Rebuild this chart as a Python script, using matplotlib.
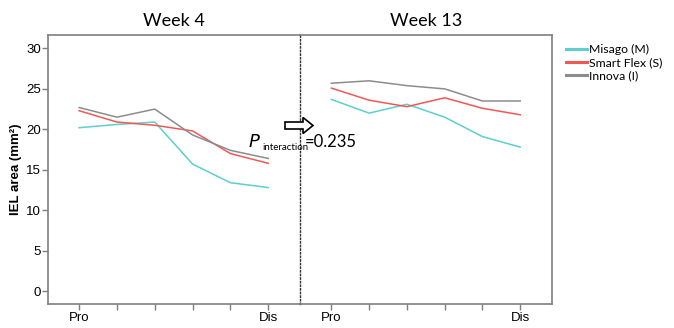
import matplotlib
matplotlib.use("Agg")
import matplotlib.pyplot as plt
from matplotlib.patches import FancyArrow

# IEL area (mm²) along the segment, proximal -> distal
positions = [0, 1, 2, 3, 4, 5]
tick_labels = ["Pro", "", "", "", "", "Dis"]

week4_misago = [20.2, 20.6, 20.9, 15.7, 13.4, 12.8]
week4_smartflex = [22.3, 20.9, 20.5, 19.8, 17.0, 15.8]
week4_innova = [22.7, 21.5, 22.5, 19.3, 17.4, 16.4]

week13_misago = [23.7, 22.0, 23.1, 21.5, 19.1, 17.8]
week13_smartflex = [25.1, 23.6, 22.8, 23.9, 22.6, 21.8]
week13_innova = [25.7, 26.0, 25.4, 25.0, 23.5, 23.5]

series_names = ["Misago (M)", "Smart Flex (S)", "Innova (I)"]
series_colors = ["#5ccfcf", "#f25757", "#8c8c8c"]
y_ticks = [0, 5, 10, 15, 20, 25, 30]
panel_titles = ["Week 4", "Week 13"]
p_value = "0.235"

title_font = "Lato"
tick_font = "Liberation Sans"
spine_col = "#7f7f7f"

fig = plt.figure(figsize=(6.74, 3.28), dpi=100)
ax1 = fig.add_axes([0.0708, 0.0732, 0.3743, 0.821])
ax2 = fig.add_axes([0.4451, 0.0732, 0.3739, 0.821])

week_data = [
    [week4_misago, week4_smartflex, week4_innova],
    [week13_misago, week13_smartflex, week13_innova],
]

for ax, data, title in zip([ax1, ax2], week_data, panel_titles):
    for vals, name, col in zip(data, series_names, series_colors):
        ax.plot(positions, vals, color=col, lw=1.1, label=name)
    ax.set_xlim(-0.83, 5.84)
    ax.set_ylim(-1.6, 31.7)
    ax.set_xticks(positions)
    ax.set_xticklabels(tick_labels, fontfamily=tick_font, fontsize=9.5)
    ax.set_title(title, fontfamily=title_font, fontsize=13, pad=6)
    ax.tick_params(axis="x", direction="out", length=4, width=1, color=spine_col, pad=2)
    for s in ax.spines.values():
        s.set_color(spine_col)
        s.set_linewidth(1.2)

ax1.set_yticks(y_ticks)
ax1.set_yticklabels([str(v) for v in y_ticks], fontfamily=tick_font, fontsize=9.5)
ax1.tick_params(axis="y", direction="out", length=4, width=1, color=spine_col, pad=1)
ax1.set_ylabel("IEL area (mm²)", fontfamily=tick_font, fontweight="bold", fontsize=9.5, labelpad=3)
ax1.spines["right"].set_visible(False)

# Dotted divider between the two weeks
ax2.spines["left"].set_color("#333333")
ax2.spines["left"].set_linestyle((0, (1.0, 1.6)))
ax2.spines["left"].set_linewidth(1.0)
ax2.set_yticks([])

# Legend
handles, labels = ax2.get_legend_handles_labels()
leg = fig.legend(handles, labels, loc="upper left", bbox_to_anchor=(0.832, 0.88),
                 frameon=False, prop={"family": title_font, "size": 8.8},
                 handlelength=1.75, handletextpad=0.15, labelspacing=0.15, borderaxespad=0)
for h in leg.legend_handles:
    h.set_linewidth(2.2)

# Hollow arrow pointing from week 4 to week 13
arrow = FancyArrow(285 / 674, 1 - 125.5 / 328, 18 / 674, 0, width=7 / 328,
                   head_width=16 / 328, head_length=10 / 674,
                   transform=fig.transFigure, facecolor="white", edgecolor="black",
                   lw=1.2, length_includes_head=False, zorder=10)
fig.add_artist(arrow)

fig.text(248 / 674, 1 - 147 / 328, "$\\mathit{P}$", fontfamily=title_font, fontsize=13, va="baseline")
fig.text(262 / 674, 1 - 150 / 328, "interaction", fontfamily=title_font, fontsize=7, va="baseline")
fig.text(305 / 674, 1 - 147 / 328, "=" + p_value, fontfamily=title_font, fontsize=12, va="baseline")

fig.savefig("out.png", dpi=100)
